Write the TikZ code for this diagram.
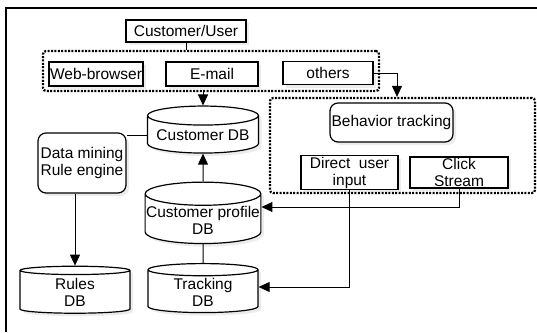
\documentclass[tikz,border=0pt]{standalone}
\usepackage{fontspec}
\setmainfont{Liberation Sans}
\usetikzlibrary{arrows.meta, shapes.geometric, shadows}

\tikzset{
  box/.style={draw, line width=1.2pt, fill=white, inner sep=1pt, align=center,
    drop shadow={fill=black!15, shadow xshift=3pt, shadow yshift=-3pt}},
  roundbox/.style={box, rounded corners=8pt},
  dbase/.style={box, cylinder, shape border rotate=90, aspect=0.2, inner ysep=0pt},
  group/.style={draw, line width=2.2pt, dash pattern=on 2pt off 1.4pt,
    rounded corners=3pt, inner sep=0pt},
  link/.style={line width=1pt},
  flow/.style={link, -{Triangle[length=11pt, width=10pt]}}
}

\begin{document}
\begin{tikzpicture}[x=1pt, y=-1pt, font=\fontsize{15.5}{17}\selectfont]
    \useasboundingbox (0,0) rectangle (537,332);

    % outer frame
    \draw[line width=1.5pt] (6,332) -- (6,8) -- (537,8);

    % user and input channels
    \node[box, minimum width=120pt, minimum height=22pt] (user) at (186,31) {Customer/User};
    \node[group, minimum width=336pt, minimum height=40pt] (inputs) at (211,71) {};
    \node[box, minimum width=93pt, minimum height=24pt] (web) at (96,74) {Web-browser};
    \node[box, minimum width=92pt, minimum height=24pt] (mail) at (212,74) {E-mail};
    \node[box, minimum width=90pt, minimum height=23pt] (others) at (328,73) {others};

    % databases and rule engine
    \node[dbase, minimum width=111pt, minimum height=47pt] (custdb) at (203,135.5) {Customer DB};
    \node[roundbox, minimum width=88pt, minimum height=60pt] (engine) at (82,163) {Data mining\\Rule engine};
    \node[dbase, minimum width=111pt, minimum height=54pt] (profdb) at (203,220) {Customer profile\\DB};
    \node[dbase, minimum width=110pt, minimum height=47pt] (rulesdb) at (75,292.5) {Rules\\DB};
    \node[dbase, minimum width=110pt, minimum height=49pt] (trackdb) at (203,292) {Tracking\\DB};

    % tracking part
    \node[group, minimum width=265pt, minimum height=95pt] (tracker) at (402.5,145.5) {};
    \node[roundbox, minimum width=123pt, minimum height=39pt] (behavior) at (391.5,122.5) {Behavior tracking};
    \node[box, minimum width=97pt, minimum height=31pt] (direct) at (349.5,172.5) {Direct~~user\\input};
    \node[box, minimum width=98pt, minimum height=31pt] (click) at (459,172.5) {Click\\Stream};

    % connectors
    \draw[link] (user) -- (user |- inputs.north);
    \draw[flow] (custdb.north |- inputs.south) -- (custdb.north);
    \draw[flow] (others.east) -| ([xshift=-5.5pt]tracker.north);
    \draw[link] (custdb.west) -- (custdb.west -| engine.east);
    \draw[flow] (rulesdb.north |- engine.south) -- (rulesdb.north);
    \draw[flow] (profdb.north) -- (custdb.south);
    \draw[link] (trackdb.north) -- (profdb.south);
    \draw[flow] (click.south) |- ([yshift=13pt]profdb.east);
    \draw[flow] (direct.south) |- ([yshift=5pt]trackdb.east);
\end{tikzpicture}
\end{document}
